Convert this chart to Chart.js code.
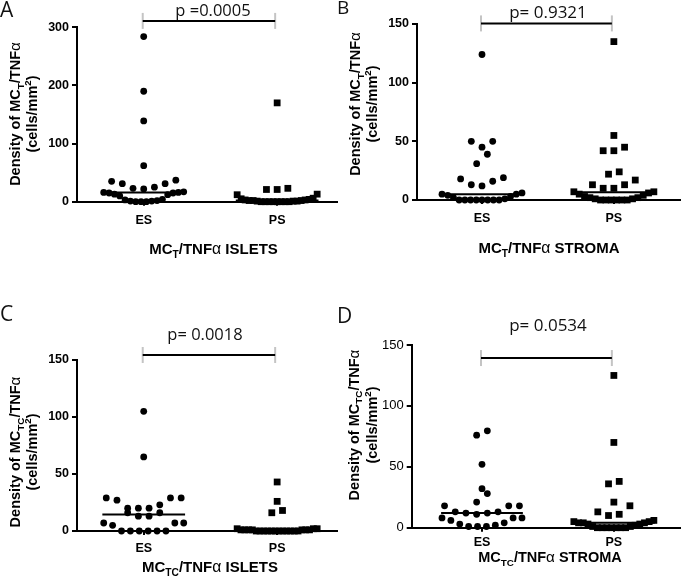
<!DOCTYPE html>
<html><head><meta charset="utf-8">
<script src="https://cdn.jsdelivr.net/npm/chart.js@4/dist/chart.umd.min.js"></script>
<style>
html,body{margin:0;padding:0;background:#fff;}
body{width:685px;height:579px;position:relative;overflow:hidden;}
canvas{position:absolute;}
</style></head><body>
<canvas id="cA"></canvas><canvas id="cB"></canvas><canvas id="cC"></canvas><canvas id="cD"></canvas>
<script>
// ---------- data ----------
const categories = ['ES', 'PS'];
// A: MC_T/TNFα islets
const isletsMCT_ES = [284, 190, 139, 62, 37, 35, 31, 31, 25, 23, 22, 17, 16, 16, 15, 15, 13, 12, 10, 4, 3, 2, 1, 1, 0, 0, 0];
const isletsMCT_PS = [170, 23, 21, 21, 13, 12, 6, 5, 4, 3, 3, 2, 2, 2, 1, 1, 1, 0, 0, 0, 0, 0, 0, 0, 0];
// B: MC_T/TNFα stroma
const stromaMCT_ES = [124, 50, 50, 45, 39, 31, 19, 18, 16, 13, 12, 6, 5, 5, 4, 3, 2, 1, 0, 0, 0, 0, 0, 0, 0, 0];
const stromaMCT_PS = [135, 55, 45, 42, 42, 24, 22, 17, 13, 13, 10, 10, 7, 7, 6, 5, 4, 3, 2, 2, 1, 1, 0, 0, 0, 0, 0, 0];
// C: MC_TC/TNFα islets
const isletsMCTC_ES = [105, 65, 29, 29, 29, 27, 23, 20, 20, 20, 16, 16, 13, 13, 7, 7, 7, 5, 0, 0, 0, 0, 0, 0];
const isletsMCTC_PS = [43, 26, 18, 16, 2, 2, 2, 1, 1, 1, 1, 1, 1, 1, 0, 0, 0, 0, 0, 0, 0, 0, 0, 0, 0, 0];
// D: MC_TC/TNFα stroma
const stromaMCTC_ES = [79.5, 76, 52, 32, 28, 21, 18, 18, 18, 13, 13, 12, 12, 11, 8, 8, 8, 6, 4, 3, 2, 1, 1, 1];
const stromaMCTC_PS = [125, 70, 38, 36, 21, 18, 13, 11, 10, 6, 5, 5, 4, 4, 4, 3, 3, 2, 1, 1, 0, 0, 0, 0, 0, 0, 0];
// tick labels
const yTicksA = [0, 100, 200, 300];
const yTicksBCD = [0, 50, 100, 150];
const pValueLabels = ['p =0.0005', 'p= 0.9321', 'p= 0.0018', 'p= 0.0534'];

// ---------- helpers ----------
const FAM = '"Liberation Sans", Arial, Helvetica, sans-serif';
const PFAM = '"Open Sans", "Noto Sans", sans-serif';

function median(arr) {
  const s = [...arr].sort((a, b) => a - b);
  const n = s.length;
  return n % 2 ? s[(n - 1) / 2] : (s[n / 2 - 1] + s[n / 2]) / 2;
}

function drawRich(ctx, segs, x, y, size) {
  const fontFor = s => {
    const sz = (s.sub || s.sup) ? size * 0.68 : (s.greek ? size * 1.05 : size);
    return (s.greek ? 'normal ' : 'bold ') + sz + 'px ' + FAM;
  };
  let total = 0;
  segs.forEach(s => { ctx.font = fontFor(s); s._w = ctx.measureText(s.t).width; total += s._w; });
  let cx = x - total / 2;
  ctx.textAlign = 'left';
  ctx.textBaseline = 'alphabetic';
  ctx.fillStyle = '#000';
  segs.forEach(s => {
    ctx.font = fontFor(s);
    const dy = s.sub ? size * 0.25 : (s.sup ? -size * 0.42 : 0);
    ctx.fillText(s.t, cx, y + dy);
    cx += s._w;
  });
}

// beeswarm-like arrangement (rows of near-equal values spread sideways)
const swarmPlugin = {
  id: 'swarm',
  afterDatasetsUpdate(chart) {
    const xs = chart.scales.x, ys = chart.scales.y;
    const zero = ys.getPixelForValue(0);
    chart.data.datasets.forEach((ds, di) => {
      if (!ds.swarm) return;
      const meta = chart.getDatasetMeta(di);
      const bins = {};
      ds.data.forEach((pt, i) => {
        const h = zero - ys.getPixelForValue(pt.y);
        const b = Math.floor((h + 2.5) / 12.5);
        (bins[b] = bins[b] || []).push(i);
      });
      Object.values(bins).forEach(idx => {
        idx.sort((a, b) => ds.data[a].y - ds.data[b].y || a - b);
        const n = idx.length;
        const s = n > 1 ? Math.min(10.7, 80 / (n - 1)) : 0;
        idx.forEach((i, k) => {
          let off;
          if (n % 2) {
            if (k === 0) off = 0;
            else off = (k % 2 ? -1 : 1) * Math.ceil(k / 2) * s;
          } else {
            off = (k % 2 ? 1 : -1) * (Math.floor(k / 2) + 0.5) * s;
          }
          const el = meta.data[i];
          el.x = xs.getPixelForValue(ds.data[i].x) + off;
        });
      });
    });
  }
};

function makeAnnot(p) {
  return {
    id: 'annot' + p.letter,
    afterDraw(chart) {
      const ctx = chart.ctx, xs = chart.scales.x, ys = chart.scales.y;
      const L = p.canvas.left, T = p.canvas.top;
      ctx.save();
      // significance bar
      const x1 = xs.getPixelForValue(1) - 1, x2 = xs.getPixelForValue(2) - 2;
      const yb = ys.getPixelForValue(p.pBar);
      ctx.strokeStyle = '#c4c4c4'; ctx.lineWidth = 2;
      [x1, x2].forEach(x => { ctx.beginPath(); ctx.moveTo(x, yb - 8); ctx.lineTo(x, yb + 8); ctx.stroke(); });
      ctx.strokeStyle = '#000'; ctx.lineWidth = 2;
      ctx.beginPath(); ctx.moveTo(x1, yb); ctx.lineTo(x2, yb); ctx.stroke();
      // p text
      ctx.fillStyle = '#111';
      ctx.font = 'normal ' + p.pText[2] + 'px ' + PFAM;
      ctx.textAlign = 'center'; ctx.textBaseline = 'alphabetic';
      ctx.fillText(p.pLabel, p.pText[0] - L, p.pText[1] - T);
      // panel letter
      ctx.font = 'normal ' + p.letterPos[2] + 'px ' + PFAM;
      ctx.textAlign = 'left';
      ctx.fillStyle = '#111';
      ctx.fillText(p.letter, p.letterPos[0] - L, p.letterPos[1] - T);
      // y title (two lines, rotated)
      const yt = p.yTitle;
      const line1 = [{t: 'Density of MC'}, {t: yt.sub, sub: 1}, {t: '/TNF'}, {t: 'α', greek: 1}];
      const line2 = [{t: '(cells/mm'}, {t: '2', sup: 1}, {t: ')'}];
      [[line1, yt.x1], [line2, yt.x2]].forEach(([segs, bx]) => {
        ctx.save();
        ctx.translate(bx - L, yt.cy - T);
        ctx.rotate(-Math.PI / 2);
        drawRich(ctx, segs, 0, 0, yt.size);
        ctx.restore();
      });
      // x title
      const xt = p.xTitle;
      drawRich(ctx, [{t: 'MC'}, {t: xt.sub, sub: 1}, {t: '/TNF'}, {t: 'α', greek: 1}, {t: ' ' + xt.word}], xt.x - L, xt.y - T, xt.size);
      ctx.restore();
    }
  };
}

// ---------- panels (layout in page pixels) ----------
const panels = [
  {id: 'cA', letter: 'A', canvas: {left: 0, top: 0, w: 342, h: 295}, area: {l: 77, r: 340, t: 27.3, b: 201.7},
   xr: [0.5, 2.45], ymax: 300, yTicks: yTicksA, es: isletsMCT_ES, ps: isletsMCT_PS, pLabel: pValueLabels[0],
   pBar: 311, pText: [213, 16.3, 16.5], letterPos: [0, 17, 21], labPad: 7, yTickWeight: 'bold', yTickSize: 12.5,
   yTitle: {x1: 20.2, x2: 37, cy: 114, size: 14.5, sub: 'T'}, xTitle: {x: 213.5, y: 254, size: 15, sub: 'T', word: 'ISLETS'}},
  {id: 'cB', letter: 'B', canvas: {left: 336, top: 0, w: 349, h: 295}, area: {l: 417, r: 683, t: 24, b: 200},
   xr: [0.507, 2.503], ymax: 150, yTicks: yTicksBCD, es: stromaMCT_ES, ps: stromaMCT_PS, pLabel: pValueLabels[1],
   pBar: 150.5, pText: [548, 18.3, 17], letterPos: [337, 13.5, 19], labPad: 7, yTickWeight: 'bold', yTickSize: 12.5,
   yTitle: {x1: 360, x2: 377, cy: 104, size: 14.5, sub: 'T'}, xTitle: {x: 549, y: 253, size: 15, sub: 'T', word: 'STROMA'}},
  {id: 'cC', letter: 'C', canvas: {left: 0, top: 290, w: 342, h: 289}, area: {l: 77, r: 340, t: 360, b: 531},
   xr: [0.5, 2.45], ymax: 150, yTicks: yTicksBCD, es: isletsMCTC_ES, ps: isletsMCTC_PS, pLabel: pValueLabels[2],
   pBar: 154.4, pText: [205, 340, 16.5], letterPos: [0, 321, 21], labPad: 6, yTickWeight: 'bold', yTickSize: 12.5,
   yTitle: {x1: 20.2, x2: 37, cy: 452, size: 14.5, sub: 'TC'}, xTitle: {x: 210, y: 572, size: 15, sub: 'TC', word: 'ISLETS'}},
  {id: 'cD', letter: 'D', canvas: {left: 336, top: 290, w: 349, h: 289}, area: {l: 411.7, r: 683, t: 345, b: 527.7},
   xr: [0.467, 2.503], ymax: 150, yTicks: yTicksBCD, es: stromaMCTC_ES, ps: stromaMCTC_PS, pLabel: pValueLabels[3],
   pBar: 139.3, pText: [548, 330.7, 17], letterPos: [337, 323, 21], labPad: 3, yTickWeight: 'normal', yTickSize: 13,
   yTitle: {x1: 358.5, x2: 377, cy: 425, size: 14.5, sub: 'TC'}, xTitle: {x: 550, y: 562, size: 14.5, sub: 'TC', word: 'STROMA'}}
];

panels.forEach(p => {
  const cv = document.getElementById(p.id);
  cv.width = p.canvas.w; cv.height = p.canvas.h;
  cv.style.left = p.canvas.left + 'px'; cv.style.top = p.canvas.top + 'px';
  cv.style.width = p.canvas.w + 'px'; cv.style.height = p.canvas.h + 'px';
  const aL = p.area.l - p.canvas.left, aR = p.area.r - p.canvas.left;
  const aT = p.area.t - p.canvas.top, aB = p.area.b - p.canvas.top;
  const mES = median(p.es), mPS = median(p.ps);
  const tickFont = {family: FAM, size: 12.5, weight: 'bold'};
  const yTickFont = {family: FAM, size: p.yTickSize, weight: p.yTickWeight};
  new Chart(cv, {
    type: 'scatter',
    data: {
      datasets: [
        {data: p.es.map(v => ({x: 1, y: v})), swarm: true, pointStyle: 'circle', pointRadius: 3.4,
         backgroundColor: '#000', borderColor: '#000', borderWidth: 0, clip: false},
        {data: p.ps.map(v => ({x: 2, y: v})), swarm: true, pointStyle: 'rect', pointRadius: 4.8,
         backgroundColor: '#000', borderColor: '#000', borderWidth: 0, clip: false},
        {data: [{x: 1 - 0.31, y: mES}, {x: 1 + 0.31, y: mES}], showLine: true, pointRadius: 0,
         borderColor: '#000', borderWidth: 2, clip: false},
        {data: [{x: 2 - 0.31, y: mPS}, {x: 2 + 0.31, y: mPS}], showLine: true, pointRadius: 0,
         borderColor: '#000', borderWidth: 2, clip: false}
      ]
    },
    options: {
      responsive: false, animation: false, events: [], devicePixelRatio: 1,
      layout: {padding: {left: 0, top: aT, right: p.canvas.w - aR, bottom: 0}},
      plugins: {legend: {display: false}, tooltip: {enabled: false}},
      scales: {
        x: {
          type: 'linear', min: p.xr[0], max: p.xr[1],
          afterBuildTicks: s => { s.ticks = [{value: 1}, {value: 2}]; },
          afterFit: s => { s.height = p.canvas.h - aB; },
          ticks: {callback: v => categories[v - 1], font: tickFont, color: '#000', padding: p.labPad, maxRotation: 0, autoSkip: false},
          grid: {display: true, drawOnChartArea: false, drawTicks: true, tickLength: 4, color: '#000', lineWidth: 2},
          border: {display: true, color: '#000', width: 2}
        },
        y: {
          type: 'linear', min: 0, max: p.ymax,
          afterBuildTicks: s => { s.ticks = p.yTicks.map(v => ({value: v})); },
          afterFit: s => { s.width = aL; },
          ticks: {font: yTickFont, color: '#000', padding: 3},
          grid: {display: true, drawOnChartArea: false, drawTicks: true, tickLength: 5, color: '#000', lineWidth: 2},
          border: {display: true, color: '#000', width: 2}
        }
      }
    },
    plugins: [swarmPlugin, makeAnnot(p)]
  });
});
</script>
</body></html>
